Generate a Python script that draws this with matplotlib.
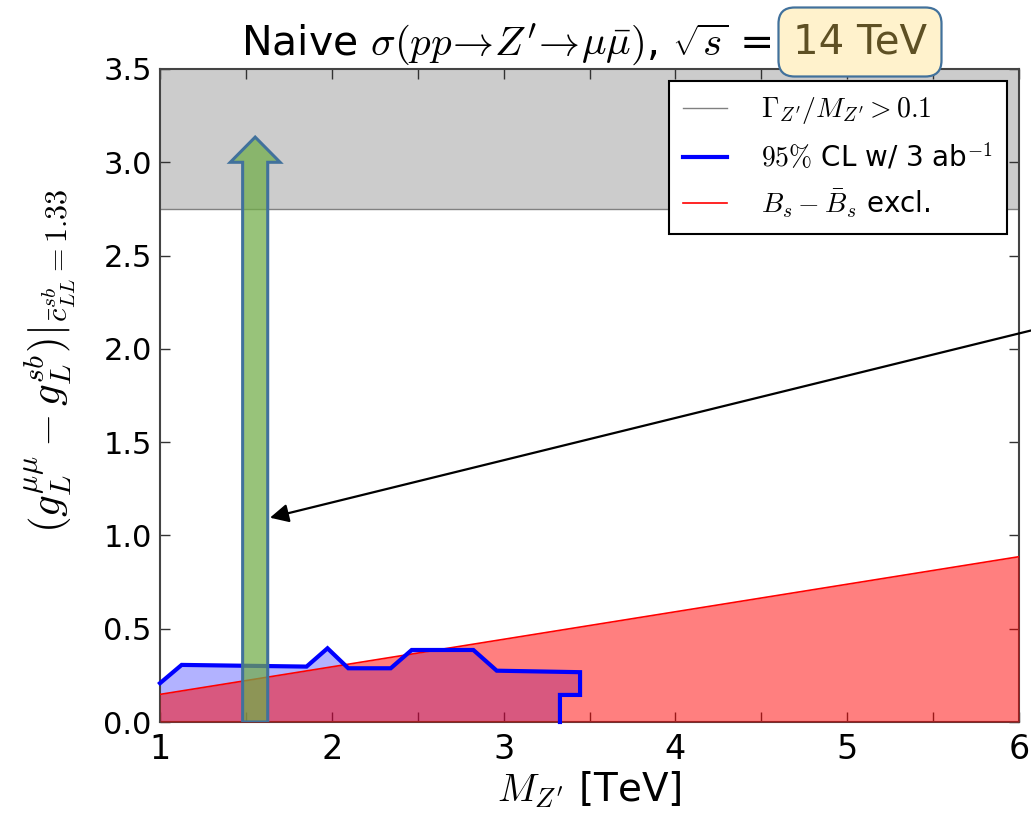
import matplotlib
matplotlib.use("Agg")
import matplotlib.pyplot as plt
import numpy as np
from matplotlib.lines import Line2D
from matplotlib.patches import FancyArrow
from matplotlib.ticker import MultipleLocator, FuncFormatter

plt.rcParams['mathtext.fontset'] = 'cm'
plt.rcParams['font.family'] = ['DejaVu Sans']

# ---------------- data ----------------
x_range = [1.0, 6.0]
y_range = [0.0, 3.5]
width_limit = 2.75           # Gamma/M > 0.1 above this coupling

bs_mass = [1.0, 6.0]         # Bs mixing exclusion boundary
bs_coupling = [0.148, 0.886]

cl_mass = [1.0, 1.126, 1.853, 1.975, 2.096, 2.343, 2.465, 2.824, 2.96, 3.445, 3.445, 3.328, 3.328]
cl_coupling = [0.208, 0.306, 0.297, 0.395, 0.288, 0.288, 0.386, 0.386, 0.275, 0.267, 0.145, 0.145, 0.0]

# highlight arrow (annotation overlay)
hl_x_center = 1.554
hl_shaft_width = 0.146
hl_head_width = 0.29
hl_head_length = 0.135
hl_y_tip = 3.135
pointer_head = (1.64, 1.095)

legend_labels = [r"$\Gamma_{Z'}/M_{Z'}>0.1$", r"$95\%$ CL w/ 3 ab$^{-1}$", r"$B_s-\bar{B}_s$ excl."]

# ---------------- figure ----------------
W, H = 1031, 819
fig = plt.figure(figsize=(W / 100, H / 100), dpi=100)
ax = fig.add_axes([160 / W, 1 - 722 / H, (1019 - 160) / W, (722 - 69) / H])

# width band
ax.axhspan(width_limit, y_range[1], color='gray', alpha=0.4, lw=0, zorder=1)
ax.axhline(width_limit, color='gray', lw=1, zorder=1.5)

# 95% CL region
poly_x = list(cl_mass) + [x_range[0]]
poly_y = list(cl_coupling) + [0.0]
ax.fill(poly_x, poly_y, color='blue', alpha=0.3, lw=0, zorder=2)

# Bs exclusion
bx = np.array(bs_mass)
by = np.array(bs_coupling)
ax.fill_between(bx, 0, by, color='red', alpha=0.5, lw=0, zorder=3)
ax.plot(bx, by, color='red', lw=1.2, zorder=3.5)

ax.plot(cl_mass, cl_coupling, color='blue', lw=3, zorder=4, solid_joinstyle='miter', clip_on=False)

# green highlight arrow
arr = FancyArrow(hl_x_center, 0.0, 0, hl_y_tip, width=hl_shaft_width,
                 head_width=hl_head_width, head_length=hl_head_length,
                 length_includes_head=True, facecolor='#70AD47', alpha=0.72,
                 edgecolor='none', lw=0, zorder=6)
ax.add_patch(arr)
arr_edge = FancyArrow(hl_x_center, 0.0, 0, hl_y_tip, width=hl_shaft_width,
                      head_width=hl_head_width, head_length=hl_head_length,
                      length_includes_head=True, facecolor='none',
                      edgecolor='#41719C', lw=2.2, zorder=6.5)
ax.add_patch(arr_edge)

# black pointer arrow
ax.annotate('', xy=pointer_head, xycoords='data',
            xytext=(W + 2, H - 330), textcoords='figure pixels',
            arrowprops=dict(arrowstyle='-|>', color='black', lw=1.6, mutation_scale=28,
                            shrinkA=0, shrinkB=0),
            annotation_clip=False, zorder=7)

ax.set_xlim(*x_range)
ax.set_ylim(*y_range)
ax.xaxis.set_major_locator(MultipleLocator(0.5))
ax.yaxis.set_major_locator(MultipleLocator(0.5))
ax.xaxis.set_major_formatter(FuncFormatter(lambda v, p: f"{int(round(v))}" if abs(v - round(v)) < 1e-6 else ""))
ax.yaxis.set_major_formatter(FuncFormatter(lambda v, p: f"{v:.1f}"))
ax.tick_params(direction='in', length=7, width=1, top=True, right=True, color='#333333')
ax.tick_params(axis='x', labelsize=24, pad=8)
ax.tick_params(axis='y', labelsize=22, pad=6)
for s in ax.spines.values():
    s.set_linewidth(1.5)
    s.set_color('#444444')

ax.set_xlabel(r"$M_{Z'}$ [TeV]", fontsize=28, labelpad=2)
ax.set_ylabel(r"$(g_L^{\mu\mu}-g_L^{sb})|_{\bar{c}^{sb}_{LL}=1.33}$", fontsize=31)
ax.yaxis.set_label_coords(-0.095, 0.553)

handles = [Line2D([], [], color='gray', lw=1),
           Line2D([], [], color='blue', lw=3),
           Line2D([], [], color='red', lw=1.2)]
leg = ax.legend(handles, legend_labels, loc='upper right', fontsize=20, fancybox=False,
                framealpha=1, edgecolor='black', borderaxespad=0.45, handlelength=1.6,
                labelspacing=0.55, handletextpad=1.2, borderpad=0.5)
leg.get_frame().set_linewidth(1.5)

# title
fig.text(772 / W, 1 - 55 / H, r"Naive $\sigma(pp\!\to\! Z'\!\to\!\mu\bar{\mu})$, $\sqrt{s}$ =",
         fontsize=29.5, ha='right', va='baseline')
fig.text(793 / W, 1 - 53 / H, "14 TeV", fontsize=29, ha='left', va='baseline', color='#5E5024',
         bbox=dict(boxstyle='round,pad=0.36,rounding_size=0.4', facecolor='#FFF2CC',
                   edgecolor='#41719C', lw=1.6))

fig.savefig('out.png', dpi=100)
